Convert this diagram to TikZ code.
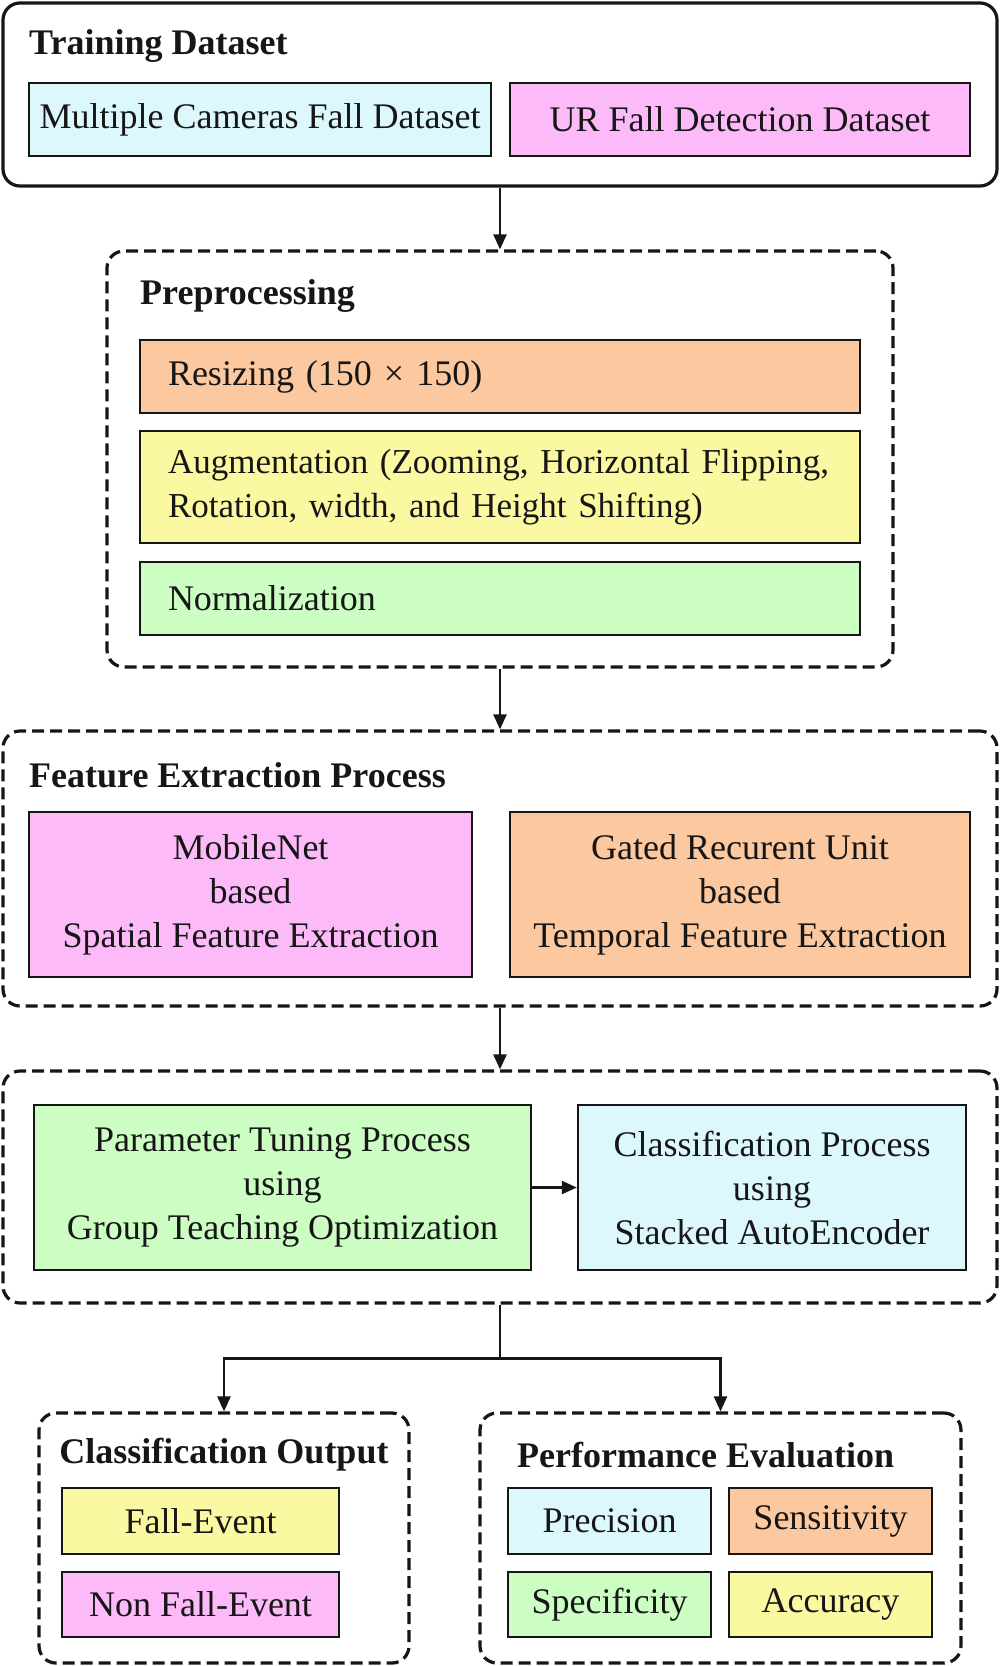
\documentclass[tikz,border=0pt]{standalone}
\usepackage{fontspec}
\setmainfont{Liberation Serif}
\usetikzlibrary{arrows.meta,calc}
\definecolor{cblue}{HTML}{DDF8FC}
\definecolor{cpink}{HTML}{FDBAF9}
\definecolor{corange}{HTML}{FBC8A0}
\definecolor{cyellow}{HTML}{FBF8A2}
\definecolor{cgreen}{HTML}{CCFDC2}
\definecolor{ink}{HTML}{161616}
\tikzset{
  every node/.style={font=\fontsize{36}{44}\selectfont, text=ink},
  cont/.style={draw=ink, line width=3.2pt, rounded corners=17pt, inner sep=0pt},
  dcont/.style={cont, dash pattern=on 12pt off 6pt},
  bx/.style={draw=ink, line width=2.4pt, inner sep=0pt, align=center},
  lbx/.style={bx, align=left, inner xsep=28pt},
  ttl/.style={font=\fontsize{36}{44}\selectfont\bfseries, inner sep=0pt},
  arr/.style={draw=ink, line width=2.3pt, -{Triangle[length=15pt,width=13pt]}},
  ln/.style={draw=ink, line width=2.3pt}
}
\begin{document}
\begin{tikzpicture}[x=1pt,y=-1pt]
\useasboundingbox (0,0) rectangle (1000,1666);
% containers
\node[cont, minimum width=994pt, minimum height=183pt] (td) at (500,94.5) {};
\node[dcont, minimum width=786pt, minimum height=416pt] (pre) at (500,459) {};
\node[dcont, minimum width=994pt, minimum height=275pt] (fe) at (500,868.5) {};
\node[dcont, minimum width=994pt, minimum height=232pt] (cl) at (500,1187) {};
\node[dcont, minimum width=370pt, minimum height=250pt] (co) at (224,1538) {};
\node[dcont, minimum width=481pt, minimum height=250pt] (pe) at (720.5,1538) {};
% titles
\node[ttl, anchor=west] (t1) at (29,46) {Training Dataset};
\node[ttl, anchor=west] (t2) at (140,296) {Preprocessing};
\node[ttl, anchor=west] (t3) at (29,775) {Feature Extraction Process};
\node[ttl] (t5) at (224,1455) {Classification Output};
\node[ttl, anchor=west] (t6) at (517,1455) {Performance Evaluation};
% training dataset
\node[bx, fill=cblue, minimum width=462pt, minimum height=73pt] (mc) at (260,119.5) {Multiple Cameras Fall Dataset};
\node[bx, fill=cpink, minimum width=460pt, minimum height=73pt] (ur) at (740,119.5) {UR Fall Detection Dataset};
% preprocessing
\node[lbx, fill=corange, minimum width=720pt, minimum height=73pt, text width=664pt] (rs) at (500,376.5) {Resizing (150 × 150)};
\node[lbx, fill=cyellow, minimum width=720pt, minimum height=112pt, text width=664pt, font=\fontsize{35}{43.5}\selectfont] (au) at (500,487) {\mbox{Augmentation (Zooming, Horizontal Flipping,}\\\mbox{Rotation, width, and Height Shifting)}};
\node[lbx, fill=cgreen, minimum width=720pt, minimum height=73pt, text width=664pt] (nm) at (500,598.5) {Normalization};
% feature extraction
\node[bx, fill=cpink, minimum width=443pt, minimum height=165pt] (mn) at (250.5,894.5) {MobileNet\\based\\Spatial Feature Extraction};
\node[bx, fill=corange, minimum width=460pt, minimum height=165pt] (gr) at (740,894.5) {Gated Recurent Unit\\based\\Temporal Feature Extraction};
% classification stage
\node[bx, fill=cgreen, minimum width=497pt, minimum height=165pt] (pt) at (282.5,1187.5) {Parameter Tuning Process\\using\\Group Teaching Optimization};
\node[bx, fill=cblue, minimum width=388pt, minimum height=165pt] (cp) at (772,1187.5) {Classification Process\\using\\Stacked AutoEncoder};
% outputs
\node[bx, fill=cyellow, minimum width=277pt, minimum height=66pt] (fev) at (200.5,1521) {Fall-Event};
\node[bx, fill=cpink, minimum width=277pt, minimum height=65pt] (nfe) at (200.5,1604.5) {Non Fall-Event};
\node[bx, fill=cblue, minimum width=203pt, minimum height=66pt] (pr) at (609.5,1521) {Precision};
\node[bx, fill=corange, minimum width=203pt, minimum height=66pt] (se) at (830.5,1521) {Sensitivity};
\node[bx, fill=cgreen, minimum width=203pt, minimum height=65pt] (sp) at (609.5,1604.5) {Specificity};
\node[bx, fill=cyellow, minimum width=203pt, minimum height=65pt] (ac) at (830.5,1604.5) {Accuracy};
% connectors
\draw[arr] (td.south) -- (pre.north);
\draw[arr] (pre.south) -- (fe.north);
\draw[arr] (fe.south) -- (cl.north);
\draw[arr] (pt.east) -- (cp.west);
\coordinate (split) at ($(cl.south)+(0,54)$);
\draw[ln] (cl.south) -- (split);
\draw[arr] (split) -| (co.north);
\draw[arr] (split) -| (pe.north);
\end{tikzpicture}
\end{document}
